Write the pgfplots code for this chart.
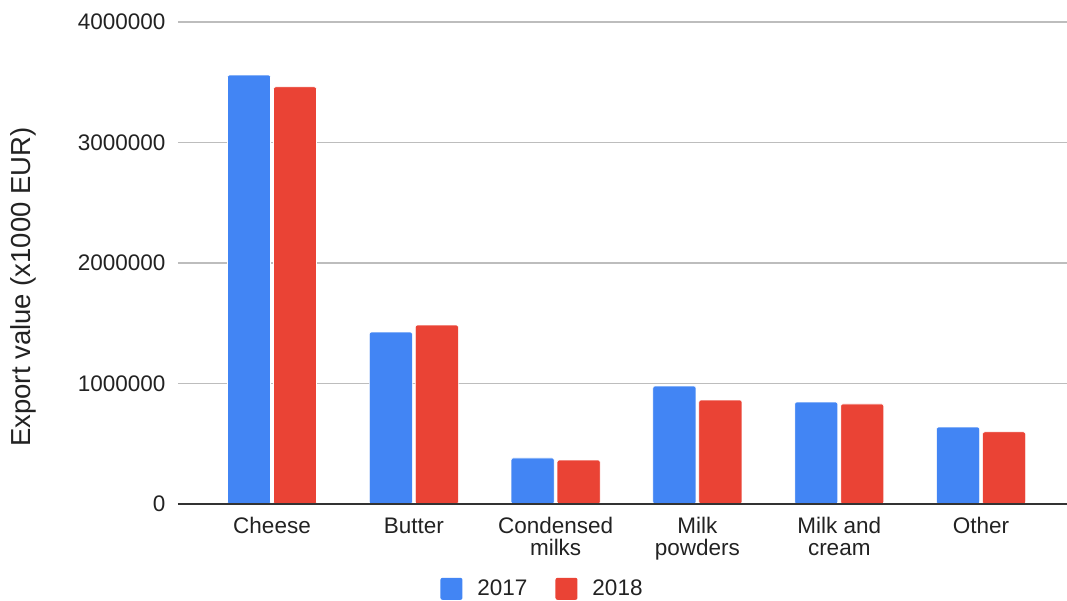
\documentclass[border=0pt]{standalone}
\usepackage{pgfplots}
\pgfplotsset{compat=1.18}
\usepackage{fontspec}
\setmainfont{Liberation Sans}
\definecolor{gblue}{HTML}{4285F4}
\definecolor{gred}{HTML}{EA4335}
\definecolor{txt}{HTML}{222222}
\definecolor{gridc}{HTML}{BDBDBD}
\definecolor{basec}{HTML}{333333}
\begin{document}
\begin{tikzpicture}
\begin{axis}[
  name=ax,
  scale only axis,
  width=889bp, height=482bp,
  xmin=-0.663, xmax=5.606,
  ymin=0, ymax=4000000,
  scaled y ticks=false,
  ytick={0,1000000,2000000,3000000,4000000},
  yticklabels={0,1000000,2000000,3000000,4000000},
  xtick={0,1,2,3,4,5},
  xticklabels={Cheese,Butter,{Condensed\\milks},{Milk\\powders},{Milk and\\cream},Other},
  xticklabel style={align=center, font=\fontsize{22.5bp}{21.5bp}\selectfont, text=txt, anchor=north, yshift=-10bp},
  yticklabel style={font=\fontsize{22.5bp}{24bp}\selectfont, text=txt, xshift=-9bp},
  major tick length=0pt,
  xtick style={draw=none},
  ytick style={draw=none},
  ymajorgrids,
  grid style={gridc, line width=1.2bp},
  axis line style={draw=none},
  ylabel={Export value (x1000 EUR)},
  ylabel style={font=\fontsize{27.5bp}{30bp}\selectfont, text=txt, at={(rel axis cs:0,0.45)}, anchor=south, yshift=138bp},
  ybar=3bp,
  bar width=43bp,
  legend style={draw=none, at={(0.41,-0.176)}, anchor=center, legend columns=2,
    font=\fontsize{22.5bp}{24bp}\selectfont, text=txt,
    /tikz/every even column/.append style={column sep=26bp}},
  legend image code/.code={\fill[#1, draw=none] (0bp,-11bp) rectangle (22bp,11bp); \path[draw=none, fill=none] (0bp,0bp) -- (35bp,0bp);},
  clip=false,
  enlarge x limits=false,
]
\addplot[fill=gblue, draw=white, line width=0.6bp, rounded corners=2bp] coordinates {(0,3560000) (1,1427000) (2,382000) (3,979000) (4,846000) (5,639000)};
\addplot[fill=gred, draw=white, line width=0.6bp, rounded corners=2bp] coordinates {(0,3461000) (1,1485000) (2,365000) (3,863000) (4,830000) (5,598000)};
\legend{2017,2018}
\draw[basec, line width=1.5bp] (rel axis cs:0,0) -- (rel axis cs:1,0);
\end{axis}
\pgfresetboundingbox
\path ([shift={(-178bp,-97bp)}]ax.south west) rectangle ([shift={(0bp,22bp)}]ax.north east);
\end{tikzpicture}
\end{document}
